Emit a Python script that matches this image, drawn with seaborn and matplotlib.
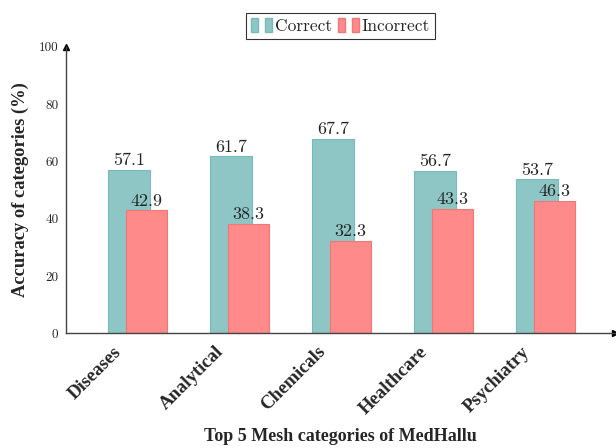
import pandas as pd
import numpy as np
import matplotlib
matplotlib.use("Agg")
import matplotlib.pyplot as plt
import seaborn as sns
from matplotlib.patches import Rectangle
from matplotlib.legend_handler import HandlerTuple

# ---------- data ----------
categories = ["Diseases", "Analytical", "Chemicals", "Healthcare", "Psychiatry"]
correct = [57.1, 61.7, 67.7, 56.7, 53.7]
incorrect = [42.9, 38.3, 32.3, 43.3, 46.3]
y_ticks = [0, 20, 40, 60, 80, 100]

teal = "#8DC6C5"
teal_edge = "#79BAB8"
salmon = "#FF8A8A"
salmon_edge = "#EE7777"

sns.set_style("white")
num_font = "cmr10"
bold_font = "Liberation Serif"

idx = np.arange(len(categories))
df_c = pd.DataFrame({"pos": idx + 0.16, "value": correct})
df_i = pd.DataFrame({"pos": idx + 0.33, "value": incorrect})

fig = plt.figure(figsize=(6.16, 4.48), dpi=100)
ax = fig.add_axes([0.1071, 0.2558, 0.8909, 0.64])

sns.barplot(data=df_c, x="pos", y="value", native_scale=True, width=0.41,
            color=teal, edgecolor=teal_edge, linewidth=0.8, saturation=1,
            ax=ax, legend=False)
sns.barplot(data=df_i, x="pos", y="value", native_scale=True, width=0.41,
            color=salmon, edgecolor=salmon_edge, linewidth=0.8, saturation=1,
            ax=ax, legend=False)

# value labels above the bars
for x, v in zip(df_c["pos"], correct):
    ax.text(x, v + 1.7, f"{v:.1f}", ha="center", va="baseline",
            fontsize=13, family=num_font)
for x, v in zip(df_i["pos"], incorrect):
    ax.text(x, v + 1.7, f"{v:.1f}", ha="center", va="baseline",
            fontsize=13, family=num_font)

# axes, pgfplots-like
ax.set_xlim(-0.46, 4.92)
ax.set_ylim(0, 100)
ax.set_xticks(idx)
ax.set_xticklabels(categories, rotation=45, ha="right", rotation_mode="anchor",
                   fontsize=13.5, family=bold_font, fontweight="bold")
ax.set_yticks(y_ticks)
ax.set_yticklabels([str(t) for t in y_ticks], fontsize=9.5, family=num_font)
ax.tick_params(axis="y", direction="inout", length=5, width=0.8, color="#555555", pad=3)
ax.tick_params(axis="x", direction="out", length=3, width=0.6, color="#555555", pad=4)

for s in ["top", "right"]:
    ax.spines[s].set_visible(False)
for s in ["left", "bottom"]:
    ax.spines[s].set_color("#444444")
    ax.spines[s].set_linewidth(1.0)
ax.plot(1, 0, ">", color="black", markersize=4, transform=ax.transAxes, clip_on=False)
ax.plot(0, 1, "^", color="black", markersize=4, transform=ax.transAxes, clip_on=False)

ax.set_xlabel("Top 5 Mesh categories of MedHallu", fontsize=13,
              family=bold_font, fontweight="bold", va="center")
ax.xaxis.set_label_coords(0.5, -0.361)
ax.set_ylabel("Accuracy of categories (%)", fontsize=13.3,
              family=bold_font, fontweight="bold", va="center")
ax.yaxis.set_label_coords(-0.084, 0.5)

# legend with little two-bar glyphs
def glyph(fc, ec):
    return (Rectangle((0, 0), 1, 1, facecolor=fc, edgecolor=ec),
            Rectangle((0, 0), 1, 1, facecolor=fc, edgecolor=ec))

handles = [glyph(teal, teal_edge), glyph(salmon, salmon_edge)]
leg = fig.legend(handles, ["Correct", "Incorrect"], ncol=2,
                 loc="upper center", bbox_to_anchor=(0.553, 0.99),
                 handler_map={tuple: HandlerTuple(ndivide=None, pad=0.4)},
                 handlelength=1.2, handleheight=0.8, handletextpad=0.2,
                 columnspacing=0.3, borderpad=0.3, fancybox=False,
                 edgecolor="black", prop={"family": num_font, "size": 12.5})
leg.get_frame().set_linewidth(0.8)

fig.savefig("out.png", dpi=100)
